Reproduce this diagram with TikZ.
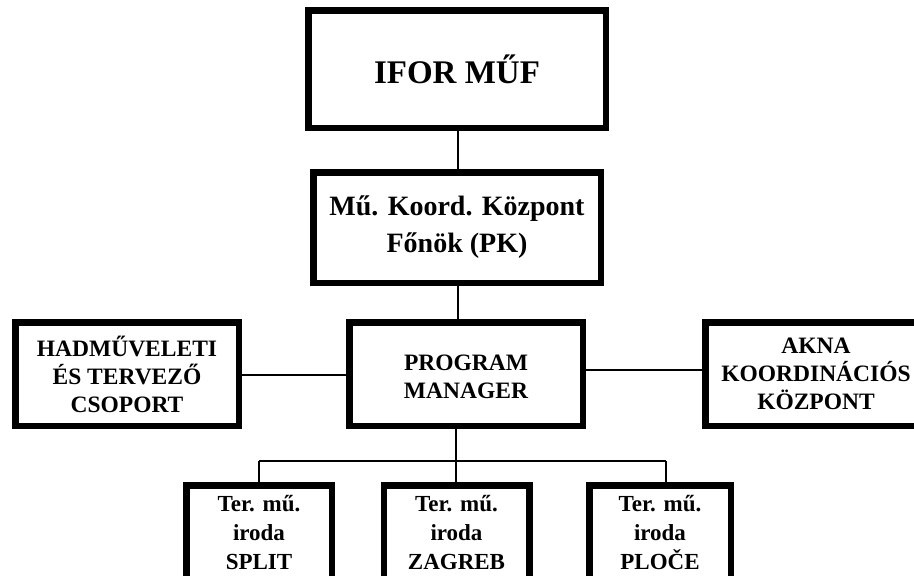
\documentclass[tikz,border=0pt]{standalone}
\usepackage{fontspec}
\setmainfont{Liberation Serif}
\begin{document}
\begin{tikzpicture}[x=1pt,y=-1pt,
  box/.style={draw=black, line width=6.5pt, fill=white, align=center, inner sep=0pt, font=\bfseries},
  conn/.style={draw=black, line width=1.8pt}]
\useasboundingbox (0,0) rectangle (914,576);
\clip (0,0) rectangle (914,576);
\fill[white] (0,0) rectangle (914,576);
% boxes
\node[box, minimum width=297.5pt, minimum height=117.5pt, font=\bfseries\fontsize{33}{40}\selectfont] (T) at (457,69) {IFOR MŰF};
\node[box, minimum width=287.5pt, minimum height=110.5pt, font=\bfseries\fontsize{28}{37}\selectfont] (K) at (457,227.5) {Mű. Koord. Központ\\Főnök (PK)};
\node[box, minimum width=233.5pt, minimum height=103.5pt, font=\bfseries\fontsize{23.5}{28.5}\selectfont] (PM) at (466,374) {\raisebox{-5pt}[\height][\depth]{\begin{tabular}{@{}c@{}}PROGRAM\\MANAGER\end{tabular}}};
\node[box, minimum width=223.5pt, minimum height=103.5pt, font=\bfseries\fontsize{23.5}{28}\selectfont] (H) at (127,374) {HADMŰVELETI\\ÉS TERVEZŐ\\CSOPORT};
\node[box, minimum width=221.5pt, minimum height=103.5pt, font=\bfseries\fontsize{23.5}{28}\selectfont] (A) at (816,374) {AKNA\\KOORDINÁCIÓS\\KÖZPONT};
\node[box, minimum width=145.5pt, minimum height=93.5pt, font=\bfseries\fontsize{23}{29}\selectfont] (S) at (259,532) {Ter. mű.\\iroda\\SPLIT};
\node[box, minimum width=145.5pt, minimum height=93.5pt, font=\bfseries\fontsize{23}{29}\selectfont] (Z) at (456.5,532) {Ter. mű.\\iroda\\ZAGREB};
\node[box, minimum width=141.5pt, minimum height=93.5pt, font=\bfseries\fontsize{23}{29}\selectfont] (P) at (660,532) {Ter. mű.\\iroda\\PLOČE};
% helper coordinates
\coordinate (rl) at (0,375);
\coordinate (rr) at (0,370);
\coordinate (bus) at (456,461);
\coordinate (bl) at (259,461);
\coordinate (br) at (666,461);
% connectors
\draw[conn] ([xshift=1pt]T.south) -- ([xshift=1pt]K.north);
\draw[conn] ([xshift=1pt]K.south) -- ([xshift=1pt]K.south |- PM.north);
\draw[conn] (rl -| H.east) -- (rl -| PM.west);
\draw[conn] (rr -| PM.east) -- (rr -| A.west);
\draw[conn] (bus |- PM.south) -- (bus);
\draw[conn] (bl) -- (br);
\draw[conn] (bl) -- (bl |- S.north);
\draw[conn] (bus) -- (bus |- Z.north);
\draw[conn] (br) -- (br |- P.north);
\end{tikzpicture}
\end{document}
